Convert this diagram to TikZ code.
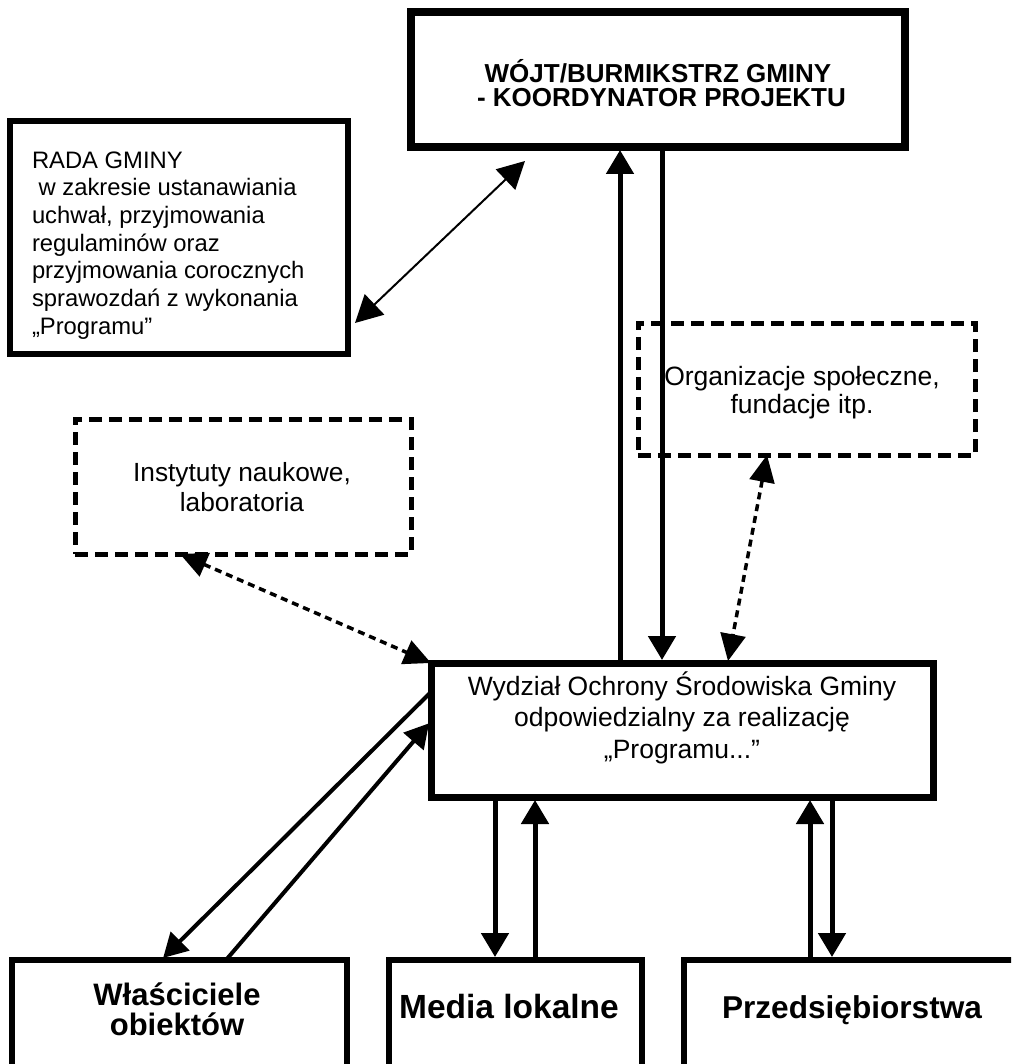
\documentclass[tikz,border=0pt]{standalone}
\usepackage{fontspec}
\setmainfont{Liberation Sans}
\usetikzlibrary{arrows.meta,calc}
\begin{document}
\begin{tikzpicture}[x=1pt,y=-1pt,
  solidbox/.style={draw, line width=7pt, inner sep=0pt, outer sep=0pt},
  dashbox/.style={draw, line width=5pt, dash pattern=on 13pt off 7pt, inner sep=0pt, outer sep=0pt},
  txt/.style={inner sep=0pt, outer sep=0pt, align=center, anchor=north},
  heavy/.style={line width=5pt, shorten >=3pt, shorten <=3pt, -{Triangle[length=24pt,width=27pt]}},
  diag/.style={line width=4pt, shorten >=3pt, -{Triangle[length=24pt,width=26pt]}},
  dotarrow/.style={line width=3.5pt, dash pattern=on 7pt off 5pt,
    {Triangle[length=27pt,width=25pt]}-{Triangle[length=27pt,width=25pt]}},
  thinarrow/.style={line width=2pt, {Triangle[length=27pt,width=28pt]}-{Triangle[length=27pt,width=28pt]}}
]
\useasboundingbox (0,0) rectangle (1011,1064);
\clip (0,0) rectangle (1011,1064);

% boxes
\node[solidbox, line width=8pt, minimum width=494pt, minimum height=135pt] (wojt) at (658,79.5) {};
\node[solidbox, line width=6.5pt, minimum width=338pt, minimum height=233pt] (rada) at (179,237.5) {};
\node[dashbox, minimum width=336pt, minimum height=135pt] (inst) at (243,486.5) {};
\node[dashbox, minimum width=337pt, minimum height=132pt] (org) at (806.5,389) {};
\node[solidbox, minimum width=502pt, minimum height=134pt] (wydz) at (682,730) {};
\node[solidbox, line width=6pt, minimum width=335pt, minimum height=150pt] (wlasc) at (179.5,1035) {};
\node[solidbox, line width=6pt, minimum width=253pt, minimum height=150pt] (media) at (515.5,1035) {};
\node[solidbox, line width=6pt, minimum width=336pt, minimum height=150pt] (przed) at (852,1035) {};

% texts
\node[txt, font=\fontsize{26}{23.5}\selectfont\bfseries] (wojtT) at (658,53)
  {\rule{0pt}{30pt}WÓJT/BURMIKSTRZ GMINY\\\hspace*{7pt}- KOORDYNATOR PROJEKTU};
\node[txt, anchor=north west, align=left, font=\fontsize{23.8}{27.7}\selectfont] (radaT) at (32,138)
  {\rule{0pt}{30pt}RADA GMINY\\\hspace*{6.6pt}w zakresie ustanawiania\\uchwał, przyjmowania\\regulaminów oraz\\przyjmowania corocznych\\sprawozdań z wykonania\\„Programu”};
\node[txt, font=\fontsize{26.3}{30}\selectfont] (instT) at (242,451)
  {\rule{0pt}{30pt}Instytuty naukowe,\\laboratoria};
\node[txt, font=\fontsize{26.5}{28}\selectfont] (orgT) at (802,355)
  {\rule{0pt}{30pt}Organizacje społeczne,\\fundacje itp.};
\node[txt, font=\fontsize{26.5}{31.5}\selectfont] (wydzT) at (682,665)
  {\rule{0pt}{30pt}Wydział Ochrony Środowiska Gminy\\odpowiedzialny za realizację\\„Programu...”};
\node[txt, font=\fontsize{31}{30.5}\selectfont\bfseries] (wlascT) at (177,975)
  {\rule{0pt}{30pt}Właściciele\\obiektów};
\node[txt, font=\fontsize{33.5}{30}\selectfont\bfseries] (mediaT) at (509,988)
  {\rule{0pt}{30pt}Media lokalne};
\node[txt, font=\fontsize{31.6}{30}\selectfont\bfseries] (przedT) at (852,988)
  {\rule{0pt}{30pt}Przedsiębiorstwa};

% connectors
\draw[heavy] (wydz.north -| 620,0) -- (wojt.south -| 620,0);
\draw[heavy] (wojt.south -| 662,0) -- (wydz.north -| 662,0);
\draw[heavy] (wydz.south -| 495,0) -- (media.north -| 495,0);
\draw[heavy] (media.north -| 535,0) -- (wydz.south -| 535,0);
\draw[heavy] (przed.north -| 810,0) -- (wydz.south -| 810,0);
\draw[heavy] (wydz.south -| 832,0) -- (przed.north -| 832,0);

\draw[diag] (wydz.west |- 0,692) -- (wlasc.north -| 161,0);
\draw[diag] (wlasc.north -| 226,0) -- (wydz.west |- 0,721);

\draw[thinarrow] ([shift={(7,-31)}]rada.south east) -- ([shift={(114,14)}]wojt.south west);

\draw[dotarrow] (inst.south -| 180,0) -- (wydz.north west);
\draw[dotarrow] (org.south -| 767,0) -- ([shift={(0,-2)}]wydz.north -| 728,0);
\end{tikzpicture}
\end{document}
